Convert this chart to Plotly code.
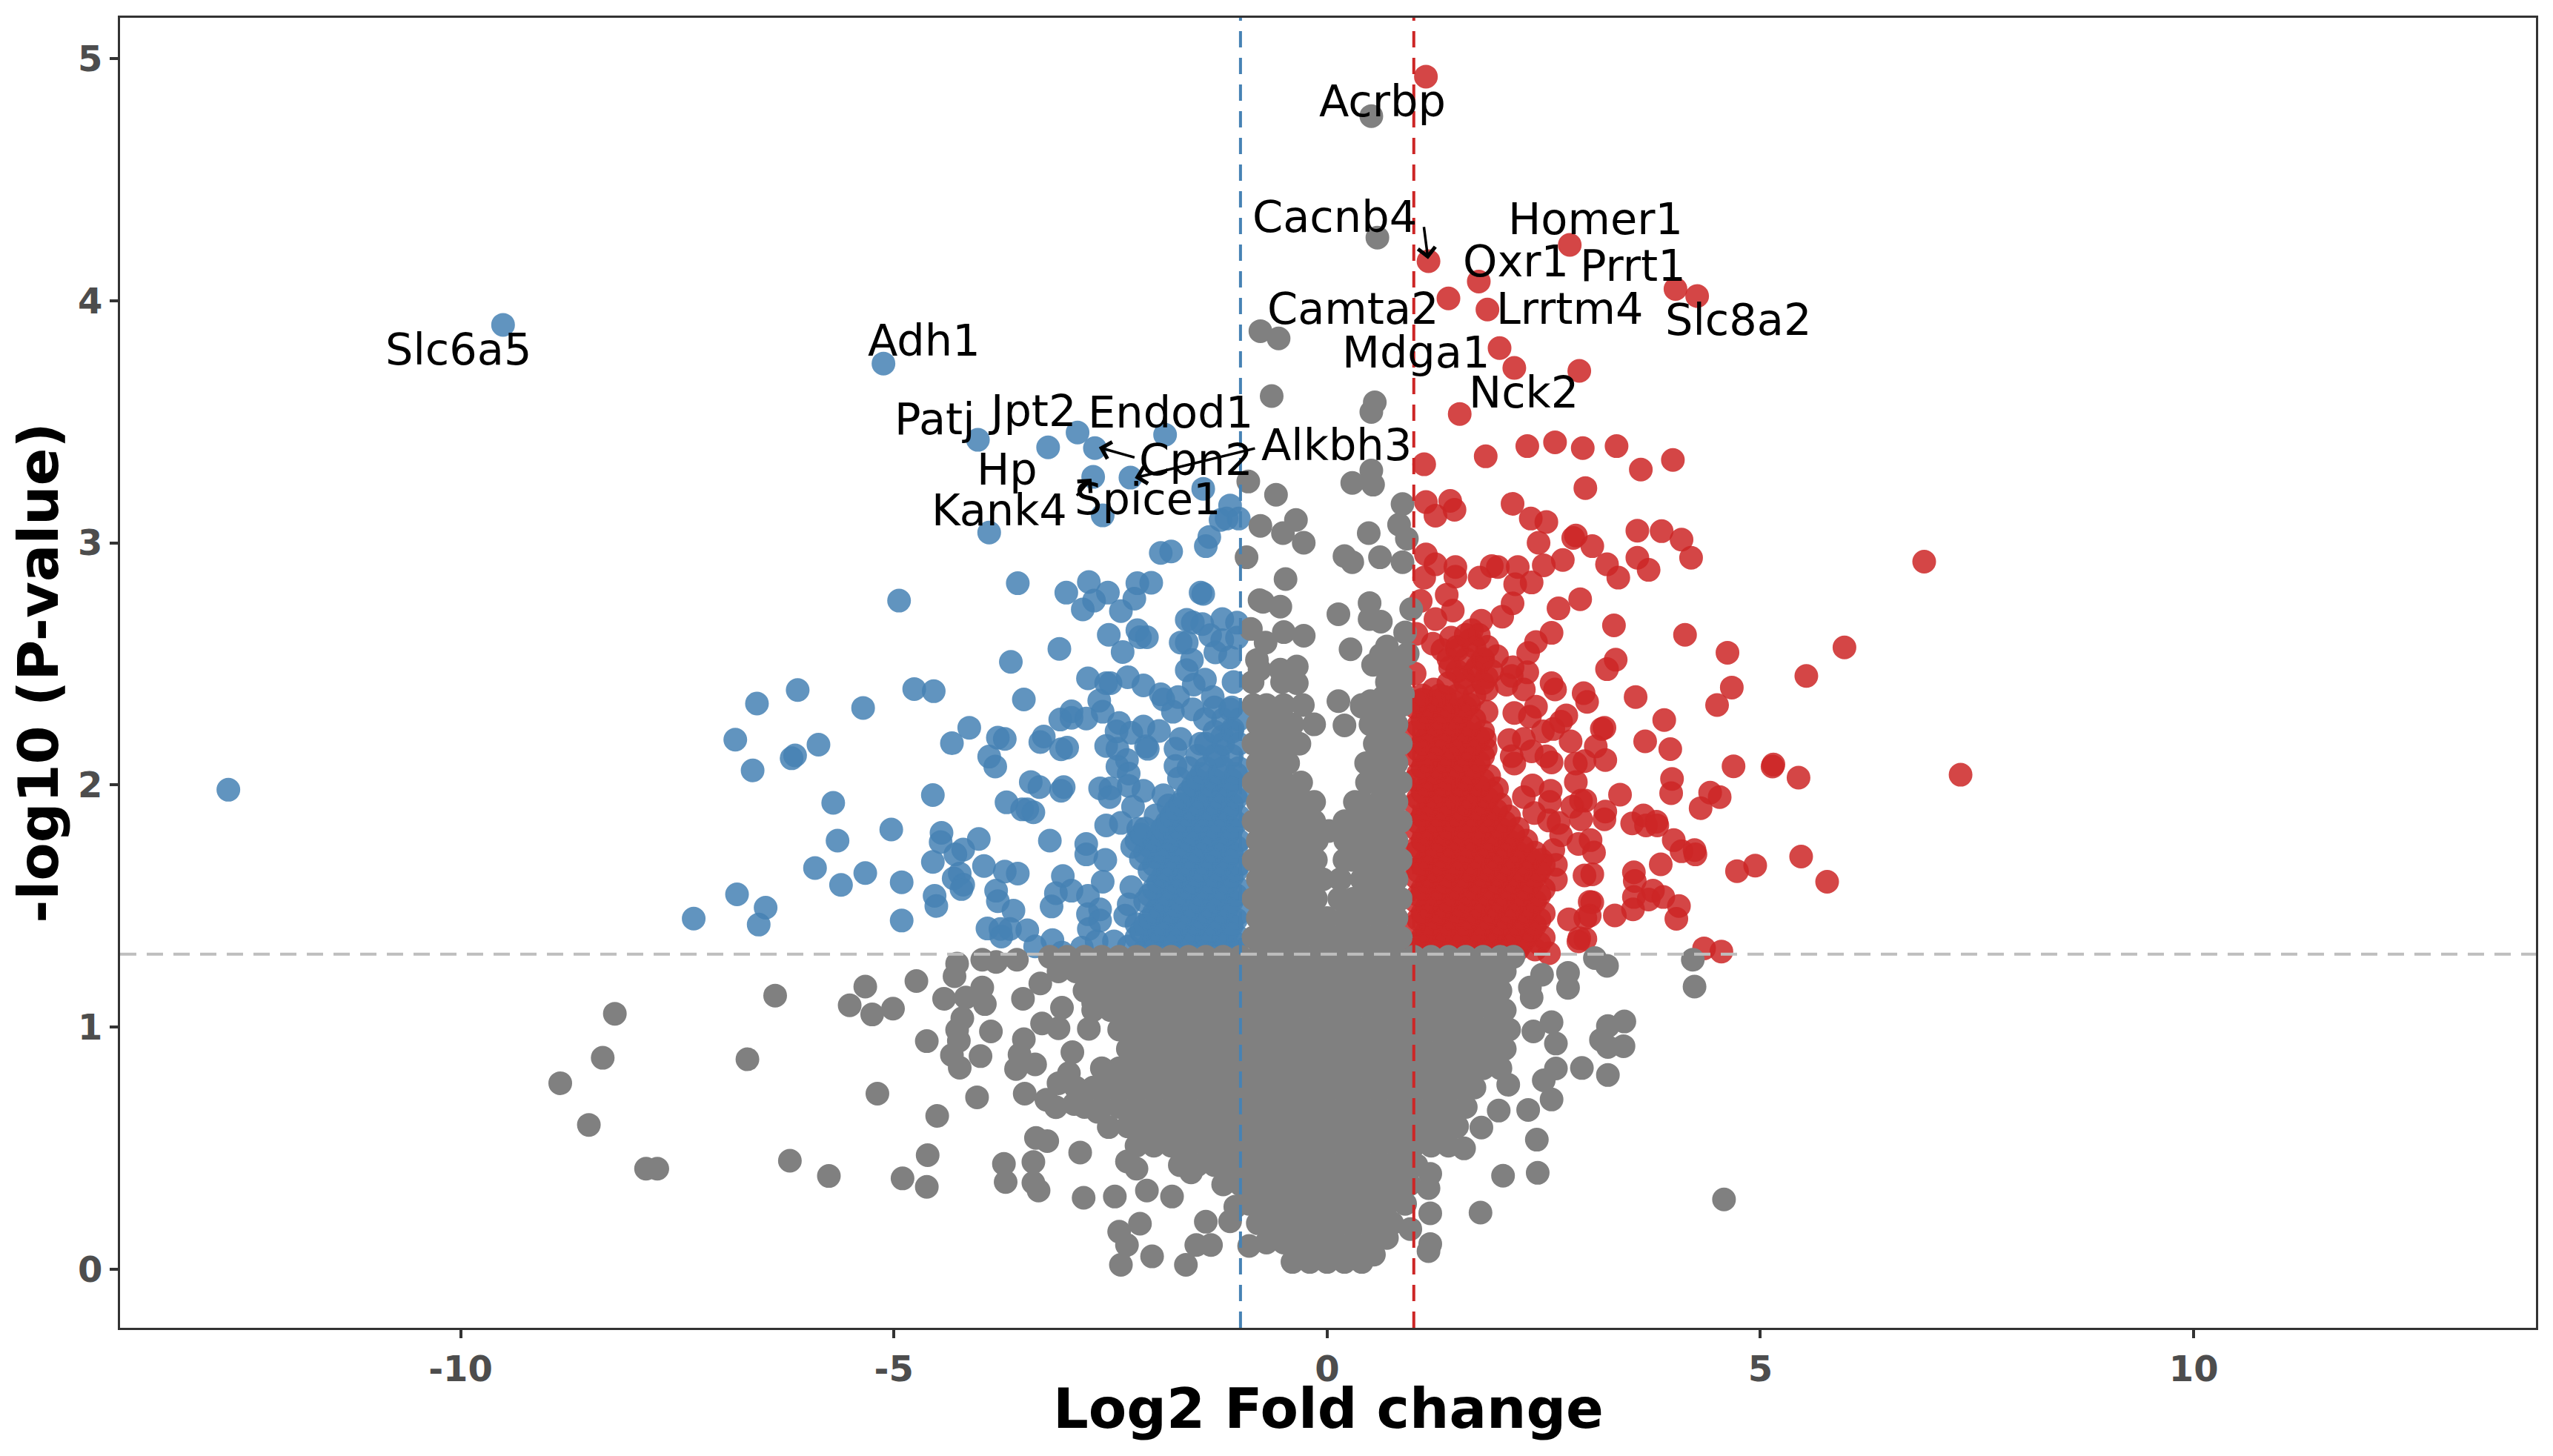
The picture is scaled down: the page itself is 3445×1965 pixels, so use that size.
"""Volcano plot: log2 fold change against -log10 p-value."""

import plotly.graph_objects as go

# separate points read one by one, (log2 fold change, -log10 p)
blue_points = [
    (-12.68, 1.98), (-9.51, 3.90), (-5.12, 3.74), (-4.03, 3.425), (-3.22, 3.394), (-2.88, 3.455),
    (-2.68, 3.391), (-1.87, 3.446), (-2.70, 3.272), (-2.27, 3.269), (-1.43, 3.223), (-2.59, 3.113),
    (-3.90, 3.042), (-1.12, 3.154), (-1.23, 3.094), (-1.16, 3.10), (-1.02, 3.10), (-1.36, 3.024),
    (-1.40, 2.986), (-1.92, 2.958), (-1.80, 2.964), (-4.94, 2.761), (-3.57, 2.833), (-3.01, 2.794),
    (-2.75, 2.838), (-2.53, 2.794), (-2.69, 2.761), (-2.82, 2.725), (-2.38, 2.718), (-2.225, 2.769),
    (-2.19, 2.833), (-2.03, 2.835), (-1.46, 2.794), (-1.43, 2.789), (-2.52, 2.62), (-2.19, 2.639),
    (-2.16, 2.61), (-2.08, 2.61), (-2.36, 2.549), (-3.09, 2.562), (-3.65, 2.508), (-4.765, 2.396),
    (-4.54, 2.387), (-5.355, 2.318), (-3.50, 2.353), (-2.76, 2.44), (-2.55, 2.42), (-2.50, 2.42),
    (-2.30, 2.445), (-2.12, 2.411), (-2.63, 2.348), (-2.59, 2.302), (-1.92, 2.374), (-1.89, 2.353),
    (-1.62, 2.682), (-1.55, 2.671), (-1.44, 2.664), (-1.21, 2.685), (-1.04, 2.67), (-1.69, 2.588),
    (-1.62, 2.588), (-1.56, 2.516), (-1.62, 2.474), (-1.41, 2.435), (-1.54, 2.414), (-1.08, 2.425),
    (-1.35, 2.618), (-1.21, 2.598), (-1.29, 2.547), (-1.12, 2.527), (-1.04, 2.608), (-1.72, 2.363),
    (-1.78, 2.302), (-1.55, 2.312), (-1.32, 2.363), (-1.12, 2.312), (-1.41, 2.272), (-1.09, 2.231),
    (-1.21, 2.20), (-2.95, 2.304), (-3.08, 2.27), (-2.95, 2.277), (-2.78, 2.274), (-2.40, 2.256),
    (-2.43, 2.221), (-2.26, 2.215), (-2.12, 2.241), (-1.94, 2.223), (-2.55, 2.161), (-2.42, 2.149),
    (-2.09, 2.159), (-2.07, 2.149), (-1.69, 2.19), (-1.75, 2.149), (-1.46, 2.17), (-1.26, 2.119),
    (-4.13, 2.236), (-4.33, 2.172), (-3.80, 2.195), (-3.72, 2.19), (-3.27, 2.20), (-3.31, 2.177),
    (-3.00, 2.154), (-3.07, 2.147), (-3.90, 2.117), (-3.83, 2.076), (-3.42, 2.012), (-3.32, 1.991),
    (-3.04, 1.991), (-3.07, 1.976), (-4.55, 1.958), (-3.70, 1.928), (-3.52, 1.899), (-3.46, 1.899),
    (-3.39, 1.887), (-2.31, 2.103), (-2.42, 2.076), (-2.29, 2.047), (-1.75, 2.078), (-1.71, 2.027),
    (-2.62, 1.986), (-2.50, 1.986), (-2.51, 1.95), (-2.29, 1.996), (-2.12, 1.976), (-1.89, 1.957),
    (-2.24, 1.91), (-1.98, 1.874), (-1.83, 1.915), (-2.55, 1.833), (-2.38, 1.843), (-2.18, 1.818),
    (-5.03, 1.816), (-4.45, 1.802), (-4.46, 1.764), (-4.02, 1.777), (-4.20, 1.733), (-4.29, 1.713),
    (-3.20, 1.77), (-2.78, 1.756), (-2.78, 1.713), (-4.55, 1.682), (-2.56, 1.69), (-5.33, 1.636),
    (-4.91, 1.598), (-3.96, 1.665), (-3.72, 1.642), (-3.57, 1.634), (-4.24, 1.634), (-4.31, 1.614),
    (-4.20, 1.588), (-4.22, 1.57), (-3.05, 1.624), (-2.59, 1.60), (-3.13, 1.553), (-2.95, 1.563),
    (-3.82, 1.563), (-3.80, 1.52), (-4.53, 1.542), (-4.51, 1.50), (-3.62, 1.481), (-3.18, 1.498),
    (-2.76, 1.542), (-2.62, 1.486), (-2.76, 1.466), (-2.62, 1.44), (-2.26, 1.578), (-2.29, 1.507),
    (-2.33, 1.46), (-2.20, 1.425), (-4.91, 1.44), (-3.92, 1.407), (-3.77, 1.405), (-3.76, 1.374),
    (-3.66, 1.405), (-3.46, 1.40), (-3.37, 1.333), (-3.17, 1.359), (-3.06, 1.308), (-2.75, 1.405),
    (-2.83, 1.328), (-2.66, 1.354), (-2.46, 1.354), (-2.29, 1.333), (-6.11, 2.392), (-6.58, 2.336),
    (-6.83, 2.187), (-5.87, 2.166), (-6.14, 2.122), (-6.18, 2.11), (-6.63, 2.06), (-5.70, 1.926),
    (-5.65, 1.77), (-5.91, 1.657), (-5.61, 1.587), (-6.81, 1.548), (-6.48, 1.493), (-6.56, 1.423),
    (-7.31, 1.448),
]

red_points = [
    (1.14, 4.925), (1.17, 4.163), (2.80, 4.23), (1.75, 4.079), (1.40, 4.009), (1.85, 3.963),
    (4.02, 4.048), (4.27, 4.019), (1.99, 3.804), (2.16, 3.722), (2.91, 3.71), (1.53, 3.532),
    (1.83, 3.357), (1.12, 3.324), (2.31, 3.399), (2.63, 3.415), (2.95, 3.391), (3.34, 3.399),
    (3.99, 3.342), (3.62, 3.302), (2.98, 3.226), (6.89, 2.922), (1.14, 3.168), (1.42, 3.173),
    (1.47, 3.136), (1.25, 3.112), (2.14, 3.161), (2.35, 3.10), (2.53, 3.086), (2.44, 3.00),
    (2.84, 3.02), (2.87, 3.03), (3.06, 2.986), (3.58, 3.05), (3.86, 3.048), (4.09, 3.013),
    (4.20, 2.938), (3.58, 2.938), (3.71, 2.888), (3.23, 2.911), (3.36, 2.856), (2.72, 2.929),
    (2.50, 2.907), (1.14, 2.952), (1.25, 2.911), (1.48, 2.90), (1.48, 2.86), (1.12, 2.856),
    (1.76, 2.856), (1.90, 2.904), (1.97, 2.90), (2.20, 2.90), (2.36, 2.836), (2.17, 2.829),
    (2.92, 2.767), (2.67, 2.729), (2.14, 2.75), (2.02, 2.695), (1.78, 2.678), (1.38, 2.785),
    (1.08, 2.76), (1.45, 2.72), (1.25, 2.685), (3.31, 2.659), (4.13, 2.62), (4.62, 2.546),
    (5.97, 2.568), (5.53, 2.45), (4.67, 2.402), (4.50, 2.33), (2.59, 2.628), (2.41, 2.59),
    (2.32, 2.545), (3.33, 2.517), (3.23, 2.478), (7.31, 2.042), (5.15, 2.084), (5.14, 2.076),
    (4.69, 2.077), (5.44, 2.03), (3.89, 2.268), (3.67, 2.18), (3.96, 2.148), (5.47, 1.704),
    (5.77, 1.60), (4.94, 1.667), (4.73, 1.644), (4.55, 1.312), (4.35, 1.325), (3.56, 2.363),
    (3.98, 2.025), (3.97, 1.966), (3.38, 1.96), (4.42, 1.968), (4.53, 1.95), (4.31, 1.904),
    (3.21, 1.89), (3.20, 1.858), (3.52, 1.841), (3.65, 1.874), (3.68, 1.833), (3.80, 1.848),
    (3.81, 1.833), (4.00, 1.772), (4.09, 1.726), (4.24, 1.731), (4.25, 1.713), (3.85, 1.672),
    (3.54, 1.639), (3.55, 1.603), (3.76, 1.563), (3.54, 1.537), (3.71, 1.527), (3.88, 1.537),
    (3.53, 1.486), (4.06, 1.50), (4.03, 1.447), (3.32, 1.461), (3.03, 1.517), (3.06, 1.515),
    (3.03, 1.46), (2.98, 1.45), (2.56, 1.305), (2.91, 1.367), (2.98, 1.364), (2.90, 1.354),
    (2.79, 1.445), (2.97, 1.626), (3.06, 1.631), (2.90, 1.756), (3.04, 1.772), (3.08, 1.721),
    (3.21, 2.103), (3.10, 2.159), (3.17, 2.231), (3.20, 2.236), (2.96, 2.379), (3.00, 2.343),
    (2.59, 2.42), (2.63, 2.394), (2.76, 2.287), (2.61, 2.231), (2.70, 2.261), (2.81, 2.18),
    (2.97, 2.098), (2.87, 2.088), (2.59, 2.093), (2.87, 2.012), (2.93, 1.935), (2.98, 1.935),
    (2.83, 1.91), (2.93, 1.858), (2.37, 1.998), (2.58, 1.976), (2.57, 1.93), (2.27, 1.95),
    (2.39, 1.884), (2.56, 1.853), (2.67, 1.843), (2.70, 1.792), (2.61, 1.731), (2.64, 1.67),
    (2.64, 1.609), (2.47, 1.69), (2.16, 2.088), (2.13, 2.119), (2.10, 2.185), (2.27, 2.19),
    (2.41, 2.323), (2.16, 2.297), (2.34, 2.282), (2.49, 2.221), (2.36, 2.139), (2.53, 2.118),
    (2.27, 2.394), (2.31, 2.465), (2.13, 2.45), (2.14, 2.486), (2.07, 2.414), (1.96, 2.532),
    (1.83, 2.149), (1.82, 2.19), (1.87, 2.037), (1.96, 1.986), (1.42, 2.486), (1.57, 2.445),
    (1.67, 2.639), (1.65, 2.598), (1.43, 2.608), (1.22, 2.583), (1.03, 2.624), (1.33, 2.557),
    (1.50, 2.557), (1.79, 2.516), (1.84, 2.445), (1.84, 2.394), (1.73, 2.486), (1.23, 2.394),
    (1.10, 2.353), (1.36, 2.363), (1.64, 2.333), (1.53, 2.312), (1.84, 2.302), (1.01, 2.46),
]

gray_points = [
    (0.51, 4.762), (0.58, 4.26), (-0.77, 3.874), (-0.56, 3.844), (-0.64, 3.606), (0.55, 3.58),
    (0.51, 3.54), (-0.91, 3.253), (-0.59, 3.198), (0.51, 3.298), (0.29, 3.247), (0.53, 3.24),
    (0.87, 3.16), (0.83, 3.075), (0.92, 3.017), (0.48, 3.04), (-0.77, 3.07), (-0.36, 3.094),
    (-0.51, 3.04), (-0.27, 3.00), (-0.93, 2.94), (0.20, 2.945), (0.29, 2.92), (0.61, 2.94),
    (0.87, 2.92), (-0.48, 2.85), (-0.78, 2.763), (-0.74, 2.756), (-0.54, 2.736), (0.13, 2.705),
    (0.49, 2.751), (0.49, 2.685), (0.62, 2.674), (0.97, 2.726), (0.90, 2.63), (-0.88, 2.644),
    (-0.71, 2.588), (-0.50, 2.631), (-0.27, 2.616), (0.27, 2.56), (0.69, 2.572), (0.62, 2.537),
    (0.53, 2.496), (0.93, 2.542), (0.82, 2.506), (-0.35, 2.489), (-0.54, 2.476), (-0.35, 2.42),
    (-0.52, 2.425), (-0.81, 2.516), (-0.78, 2.476), (-0.86, 2.425), (0.69, 2.425), (0.70, 2.465),
    (0.87, 2.445), (0.13, 2.346), (0.20, 2.246), (0.50, 2.346), (0.40, 2.323), (0.65, 2.363),
    (0.875, 2.374), (-8.22, 1.055), (-6.37, 1.13), (-8.36, 0.873), (-6.69, 0.867), (-8.85, 0.768),
    (-8.52, 0.596), (-7.86, 0.415), (-7.73, 0.415), (-6.20, 0.448), (-5.75, 0.385), (-4.90, 0.375),
    (-4.62, 0.34), (-4.61, 0.471), (-4.50, 0.633), (-5.19, 0.725), (-4.04, 0.71), (-5.33, 1.167),
    (-5.51, 1.09), (-5.25, 1.052), (-5.01, 1.076), (-4.74, 1.19), (-4.27, 1.262), (-4.30, 1.21),
    (-4.42, 1.117), (-4.17, 1.122), (-3.98, 1.163), (-3.95, 1.095), (-4.21, 1.036), (-4.27, 0.988),
    (-4.25, 0.943), (-4.62, 0.942), (-4.33, 0.884), (-4.24, 0.832), (-4.00, 0.88), (-3.88, 0.982),
    (-3.51, 1.117), (-3.98, 1.278), (-3.82, 1.269), (-3.58, 1.278), (-3.31, 1.18), (-3.29, 1.015),
    (-3.10, 0.995), (-3.50, 0.95), (-3.55, 0.886), (-3.37, 0.846), (-3.59, 0.827), (-3.49, 0.725),
    (-3.24, 0.70), (-3.13, 0.669), (-2.92, 0.682), (-2.65, 0.65), (-2.52, 0.587), (-3.36, 0.542),
    (-3.23, 0.529), (-2.85, 0.482), (-3.73, 0.435), (-3.39, 0.443), (-3.71, 0.36), (-3.39, 0.357),
    (-3.33, 0.325), (-2.81, 0.295), (-2.45, 0.30), (-2.31, 0.445), (-2.20, 0.415), (-2.08, 0.325),
    (-1.79, 0.30), (-2.16, 0.188), (-2.40, 0.155), (-2.31, 0.10), (-2.38, 0.018), (-2.02, 0.053),
    (-1.63, 0.018), (-1.51, 0.10), (-1.34, 0.10), (-1.40, 0.196), (-1.12, 0.198), (-1.06, 0.258),
    (-1.57, 0.40), (2.48, 1.216), (2.78, 1.224), (2.78, 1.162), (3.09, 1.285), (3.23, 1.253),
    (4.22, 1.278), (4.24, 1.167), (2.34, 1.163), (2.36, 1.122), (2.59, 1.02), (2.38, 0.982),
    (2.64, 0.932), (3.24, 1.004), (3.43, 1.023), (3.16, 0.947), (3.24, 0.918), (3.42, 0.921),
    (2.64, 0.829), (2.94, 0.831), (3.24, 0.802), (2.50, 0.78), (2.59, 0.701), (2.09, 0.762),
    (1.98, 0.655), (2.32, 0.658), (1.78, 0.585), (2.42, 0.535), (1.58, 0.499), (2.03, 0.386),
    (2.43, 0.398), (1.19, 0.394), (1.17, 0.335), (1.19, 0.231), (1.77, 0.234), (4.58, 0.288),
    (1.19, 0.104), (1.17, 0.075), (0.96, 0.166), (0.69, 0.129), (0.54, 0.06), (-0.90, 0.096),
    (-2.94, 0.896), (-2.98, 0.81), (-3.10, 0.768), (-2.75, 0.993), (-3.06, 1.08), (-2.70, 1.10),
    (-2.74, 1.208), (-3.02, 1.262), (0.02, 1.81),
]

# dense clouds, read as rows: (-log10 p, fold changes across the row)
blue_rows = [
    (1.32, [-2.1, -1.9, -1.7, -1.5, -1.3, -1.1]),
    (1.345, [-2.05, -1.85, -1.65, -1.45, -1.25, -1.05]),
    (1.37, [-2.2, -2.0, -1.8, -1.6, -1.4, -1.2, -1.02]),
    (1.395, [-2.15, -1.95, -1.75, -1.55, -1.35, -1.15]),
    (1.42, [-2.1, -1.9, -1.7, -1.5, -1.3, -1.1]),
    (1.445, [-2.05, -1.85, -1.65, -1.45, -1.25, -1.05]),
    (1.47, [-2.0, -1.8, -1.6, -1.4, -1.2, -1.02]),
    (1.495, [-1.95, -1.75, -1.55, -1.35, -1.15]),
    (1.52, [-2.1, -1.9, -1.7, -1.5, -1.3, -1.1]),
    (1.545, [-2.05, -1.85, -1.65, -1.45, -1.25, -1.05]),
    (1.57, [-2.0, -1.8, -1.6, -1.4, -1.2, -1.02]),
    (1.595, [-1.95, -1.75, -1.55, -1.35, -1.15]),
    (1.62, [-1.9, -1.7, -1.5, -1.3, -1.1]),
    (1.645, [-2.05, -1.85, -1.65, -1.45, -1.25, -1.05]),
    (1.67, [-2.0, -1.8, -1.6, -1.4, -1.2, -1.02]),
    (1.695, [-2.15, -1.95, -1.75, -1.55, -1.35, -1.15]),
    (1.72, [-2.1, -1.9, -1.7, -1.5, -1.3, -1.1]),
    (1.745, [-2.25, -2.05, -1.85, -1.65, -1.45, -1.25, -1.05]),
    (1.77, [-2.2, -2.0, -1.8, -1.6, -1.4, -1.2, -1.02]),
    (1.795, [-2.15, -1.95, -1.75, -1.55, -1.35, -1.15]),
    (1.82, [-2.1, -1.9, -1.7, -1.5, -1.3, -1.1]),
    (1.845, [-1.85, -1.65, -1.45, -1.25, -1.05]),
    (1.87, [-1.8, -1.6, -1.4, -1.2, -1.02]),
    (1.895, [-1.75, -1.55, -1.35, -1.15]),
    (1.92, [-1.7, -1.5, -1.3, -1.1]),
    (1.945, [-1.65, -1.45, -1.25, -1.05]),
    (1.97, [-1.6, -1.4, -1.2, -1.02]),
    (1.995, [-1.55, -1.35, -1.15]),
    (2.02, [-1.5, -1.3, -1.1]),
    (2.045, [-1.45, -1.25, -1.05]),
    (2.07, [-1.6, -1.4, -1.2, -1.02]),
    (2.12, [-1.5, -1.3, -1.1]),
    (2.17, [-1.4, -1.2, -1.02]),
    (2.22, [-1.3, -1.1]),
    (2.27, [-1.2, -1.02]),
    (2.32, [-1.3, -1.1]),
]

red_rows = [
    (1.32, [1.02, 1.2, 1.4, 1.6, 1.8, 2.0, 2.2, 2.4]),
    (1.345, [1.05, 1.25, 1.45, 1.65, 1.85, 2.05, 2.25, 2.45]),
    (1.37, [1.1, 1.3, 1.5, 1.7, 1.9, 2.1, 2.3, 2.5]),
    (1.395, [1.15, 1.35, 1.55, 1.75, 1.95, 2.15, 2.35]),
    (1.42, [1.02, 1.2, 1.4, 1.6, 1.8, 2.0, 2.2, 2.4]),
    (1.445, [1.05, 1.25, 1.45, 1.65, 1.85, 2.05, 2.25, 2.45]),
    (1.47, [1.1, 1.3, 1.5, 1.7, 1.9, 2.1, 2.3, 2.5]),
    (1.495, [1.15, 1.35, 1.55, 1.75, 1.95, 2.15, 2.35]),
    (1.52, [1.02, 1.2, 1.4, 1.6, 1.8, 2.0, 2.2, 2.4]),
    (1.545, [1.05, 1.25, 1.45, 1.65, 1.85, 2.05, 2.25, 2.45]),
    (1.57, [1.1, 1.3, 1.5, 1.7, 1.9, 2.1, 2.3, 2.5]),
    (1.595, [1.15, 1.35, 1.55, 1.75, 1.95, 2.15, 2.35]),
    (1.62, [1.02, 1.2, 1.4, 1.6, 1.8, 2.0, 2.2, 2.4]),
    (1.645, [1.05, 1.25, 1.45, 1.65, 1.85, 2.05, 2.25, 2.45]),
    (1.67, [1.1, 1.3, 1.5, 1.7, 1.9, 2.1, 2.3, 2.5]),
    (1.695, [1.15, 1.35, 1.55, 1.75, 1.95, 2.15, 2.35]),
    (1.72, [1.02, 1.2, 1.4, 1.6, 1.8, 2.0, 2.2, 2.4]),
    (1.745, [1.05, 1.25, 1.45, 1.65, 1.85, 2.05, 2.25]),
    (1.77, [1.1, 1.3, 1.5, 1.7, 1.9, 2.1, 2.3]),
    (1.795, [1.15, 1.35, 1.55, 1.75, 1.95, 2.15]),
    (1.82, [1.02, 1.2, 1.4, 1.6, 1.8, 2.0, 2.2]),
    (1.845, [1.05, 1.25, 1.45, 1.65, 1.85, 2.05]),
    (1.87, [1.1, 1.3, 1.5, 1.7, 1.9, 2.1]),
    (1.895, [1.15, 1.35, 1.55, 1.75, 1.95]),
    (1.92, [1.02, 1.2, 1.4, 1.6, 1.8, 2.0]),
    (1.945, [1.05, 1.25, 1.45, 1.65, 1.85]),
    (1.97, [1.1, 1.3, 1.5, 1.7, 1.9]),
    (1.995, [1.15, 1.35, 1.55, 1.75]),
    (2.02, [1.02, 1.2, 1.4, 1.6, 1.8]),
    (2.045, [1.05, 1.25, 1.45, 1.65]),
    (2.07, [1.1, 1.3, 1.5, 1.7]),
    (2.095, [1.15, 1.35, 1.55, 1.75]),
    (2.12, [1.02, 1.2, 1.4, 1.6, 1.8]),
    (2.145, [1.05, 1.25, 1.45, 1.65]),
    (2.17, [1.1, 1.3, 1.5, 1.7]),
    (2.195, [1.15, 1.35, 1.55, 1.75]),
    (2.22, [1.02, 1.2, 1.4, 1.6, 1.8]),
    (2.245, [1.05, 1.25, 1.45, 1.65]),
    (2.27, [1.1, 1.3, 1.5, 1.7]),
    (2.295, [1.15, 1.35, 1.55]),
    (2.32, [1.02, 1.2, 1.4, 1.6]),
    (2.345, [1.05, 1.25, 1.45]),
    (2.37, [1.1, 1.3, 1.5, 1.7]),
    (2.42, [1.4, 1.6, 1.8]),
    (2.47, [1.5, 1.7, 1.9]),
    (2.52, [1.4, 1.6, 1.8]),
    (2.57, [1.5, 1.7, 1.85]),
    (2.62, [1.6, 1.75]),
]

gray_rows = [
    (0.03, [-0.4, -0.2, 0.0, 0.2, 0.4]),
    (0.11, [-0.7, -0.5, -0.3, -0.1, 0.1, 0.3, 0.5]),
    (0.19, [-0.8, -0.6, -0.4, -0.2, 0.0, 0.2, 0.4, 0.6, 0.75]),
    (0.27, [-0.9, -0.7, -0.5, -0.3, -0.1, 0.1, 0.3, 0.5, 0.7, 0.9]),
    (0.35, [-1.2, -1.0, -0.8, -0.6, -0.4, -0.2, 0.0, 0.2, 0.4, 0.6, 0.8, 0.95]),
    (0.43, [-1.7, -1.5, -1.3, -1.1, -0.9, -0.7, -0.5, -0.3, -0.1, 0.1, 0.3, 0.5, 0.7, 0.9, 1.03]),
    (0.51, [-2.2, -2.0, -1.8, -1.6, -1.4, -1.2, -1.0, -0.8, -0.6, -0.4, -0.2, 0.0, 0.2, 0.4, 0.6, 0.8, 1.0, 1.2, 1.4]),
    (0.59, [-2.3, -2.1, -1.9, -1.7, -1.5, -1.3, -1.1, -0.9, -0.7, -0.5, -0.3, -0.1, 0.1, 0.3, 0.5, 0.7, 0.9, 1.1, 1.3, 1.5]),
    (0.67, [-2.8, -2.6, -2.4, -2.2, -2.0, -1.8, -1.6, -1.4, -1.2, -1.0, -0.8, -0.6, -0.4, -0.2, 0.0, 0.2, 0.4, 0.6, 0.8, 1.0, 1.2, 1.4, 1.6]),
    (0.75, [-2.9, -2.7, -2.5, -2.3, -2.1, -1.9, -1.7, -1.5, -1.3, -1.1, -0.9, -0.7, -0.5, -0.3, -0.1, 0.1, 0.3, 0.5, 0.7, 0.9, 1.1, 1.3, 1.5, 1.7]),
    (0.83, [-2.6, -2.4, -2.2, -2.0, -1.8, -1.6, -1.4, -1.2, -1.0, -0.8, -0.6, -0.4, -0.2, 0.0, 0.2, 0.4, 0.6, 0.8, 1.0, 1.2, 1.4, 1.6, 1.8, 2.0]),
    (0.91, [-2.3, -2.1, -1.9, -1.7, -1.5, -1.3, -1.1, -0.9, -0.7, -0.5, -0.3, -0.1, 0.1, 0.3, 0.5, 0.7, 0.9, 1.1, 1.3, 1.5, 1.7, 1.9, 2.05]),
    (0.99, [-2.4, -2.2, -2.0, -1.8, -1.6, -1.4, -1.2, -1.0, -0.8, -0.6, -0.4, -0.2, 0.0, 0.2, 0.4, 0.6, 0.8, 1.0, 1.2, 1.4, 1.6, 1.8, 2.0, 2.1]),
    (1.07, [-2.7, -2.5, -2.3, -2.1, -1.9, -1.7, -1.5, -1.3, -1.1, -0.9, -0.7, -0.5, -0.3, -0.1, 0.1, 0.3, 0.5, 0.7, 0.9, 1.1, 1.3, 1.5, 1.7, 1.9, 2.05]),
    (1.15, [-2.8, -2.6, -2.4, -2.2, -2.0, -1.8, -1.6, -1.4, -1.2, -1.0, -0.8, -0.6, -0.4, -0.2, 0.0, 0.2, 0.4, 0.6, 0.8, 1.0, 1.2, 1.4, 1.6, 1.8, 2.0]),
    (1.23, [-3.1, -2.9, -2.7, -2.5, -2.3, -2.1, -1.9, -1.7, -1.5, -1.3, -1.1, -0.9, -0.7, -0.5, -0.3, -0.1, 0.1, 0.3, 0.5, 0.7, 0.9, 1.1, 1.3, 1.5, 1.7, 1.9, 2.05]),
    (1.29, [-3.2, -3.0, -2.8, -2.6, -2.4, -2.2, -2.0, -1.8, -1.6, -1.4, -1.2, -1.0, -0.8, -0.6, -0.4, -0.2, 0.0, 0.2, 0.4, 0.6, 0.8, 1.0, 1.2, 1.4, 1.6, 1.8, 2.0, 2.15]),
    (1.37, [-0.85, -0.7, -0.5, -0.3, -0.1, 0.1, 0.3, 0.5, 0.7, 0.85]),
    (1.45, [-0.8, -0.6, -0.4, -0.2, 0.0, 0.2, 0.4, 0.6, 0.8]),
    (1.53, [-0.85, -0.7, -0.5, -0.3, -0.13, 0.14, 0.3, 0.5, 0.7, 0.85]),
    (1.61, [-0.8, -0.6, -0.4, -0.2, -0.05, 0.15, 0.4, 0.6, 0.8]),
    (1.69, [-0.85, -0.7, -0.5, -0.3, -0.13, 0.2, 0.3, 0.5, 0.7, 0.85]),
    (1.77, [-0.8, -0.6, -0.4, -0.25, -0.12, 0.21, 0.4, 0.6, 0.8]),
    (1.85, [-0.85, -0.7, -0.5, -0.3, -0.15, 0.2, 0.3, 0.5, 0.7, 0.85]),
    (1.93, [-0.8, -0.6, -0.4, -0.25, -0.15, 0.32, 0.4, 0.6, 0.8]),
    (2.01, [-0.85, -0.7, -0.5, -0.3, 0.46, 0.6, 0.7, 0.85]),
    (2.09, [-0.8, -0.6, -0.45, 0.45, 0.6, 0.8]),
    (2.17, [-0.85, -0.7, -0.5, -0.32, 0.55, 0.7, 0.85]),
    (2.25, [-0.8, -0.6, -0.4, -0.15, 0.5, 0.6, 0.8]),
    (2.33, [-0.85, -0.7, -0.5, -0.28, 0.4, 0.5, 0.7, 0.87]),
]

label_names = ['Acrbp', 'Cacnb4', 'Homer1', 'Oxr1', 'Prrt1', 'Camta2', 'Lrrtm4', 'Slc8a2', 'Mdga1', 'Slc6a5',
               'Adh1', 'Nck2', 'Patj', 'Jpt2', 'Endod1', 'Alkbh3', 'Cpn2', 'Hp', 'Spice1', 'Kank4']
label_x = [0.636, 0.09, 3.1, 2.18, 3.53, 0.3, 2.8, 4.75, 1.03, -10.02,
           -4.65, 2.27, -4.53, -3.4, -1.81, 0.11, -1.51, -3.69, -2.07, -3.78]
label_y = [4.823, 4.345, 4.338, 4.164, 4.143, 3.968, 3.968, 3.921, 3.787, 3.80,
           3.834, 3.62, 3.51, 3.545, 3.538, 3.403, 3.343, 3.302, 3.181, 3.134]

# repel segments: tail x, tail y, head x, head y
arrows = [(1.115, 4.309, 1.165, 4.171), (-0.82, 3.391, -2.22, 3.268),
          (-2.21, 3.351, -2.635, 3.394), (-2.9, 3.19, -2.72, 3.265)]

x_ticks = [-10, -5, 0, 5, 10]
x_tick_labels = ['-10', '-5', '0', '5', '10']
y_ticks = [0, 1, 2, 3, 4, 5]


def unpack(points, rows):
    xs = [p[0] for p in points]
    ys = [p[1] for p in points]
    for y, row in rows:
        xs += row
        ys += [y] * len(row)
    return xs, ys


fig = go.Figure()
for name, points, rows, color, alpha in [
        ('Down', blue_points, blue_rows, '#4682B4', 0.85),
        ('Up', red_points, red_rows, '#CD2626', 0.85),
        ('NS', gray_points, gray_rows, '#808080', 1)]:
    xs, ys = unpack(points, rows)
    fig.add_trace(go.Scatter(x=xs, y=ys, mode='markers', name=name, showlegend=False,
                             marker=dict(size=30, color=color, opacity=alpha,
                                         line=dict(width=2, color=color))))

fig.add_vline(x=-1, line=dict(color='#4682B4', width=4, dash='22px,14px'))
fig.add_vline(x=1, line=dict(color='#CD2626', width=4, dash='22px,14px'))
fig.add_hline(y=1.301, line=dict(color='#BEBEBE', width=4, dash='22px,14px'))

for name, x, y in zip(label_names, label_x, label_y):
    fig.add_annotation(x=x, y=y, text=name, showarrow=False, xanchor='center', yanchor='middle',
                       font=dict(family='DejaVu Sans', size=59, color='black'))
for x0, y0, x1, y1 in arrows:
    fig.add_annotation(x=x1, y=y1, ax=x0, ay=y0, axref='x', ayref='y', text='', showarrow=True,
                       arrowhead=4, arrowwidth=3.5, arrowsize=1.3, arrowcolor='black')

# x title sits closer to the ticks than the axis title standoff allows
fig.add_annotation(xref='paper', yref='paper', x=0.5, y=0, yshift=-109, text='Log2 Fold change',
                   showarrow=False, xanchor='center', yanchor='middle',
                   font=dict(family='DejaVu Sans', size=75, color='black', weight='bold'))

axis_style = dict(showgrid=False, zeroline=False, showline=True, mirror=True, linecolor='#333333',
                  linewidth=3, ticks='outside', ticklen=11, tickwidth=4, tickcolor='#333333',
                  tickfont=dict(family='DejaVu Sans', size=48, color='#4D4D4D', weight='bold'))
fig.update_xaxes(range=[-13.93, 13.95], tickvals=x_ticks, ticktext=x_tick_labels, **axis_style)
fig.update_yaxes(range=[-0.242, 5.168], tickvals=y_ticks, **axis_style,
                 title=dict(text='-log10 (P-value)', standoff=9,
                            font=dict(family='DejaVu Sans', size=75, color='black', weight='bold')))
# the page body adds an 8px margin, the figure is sized and placed to allow for it
fig.update_layout(width=3429, height=1945, plot_bgcolor='white', paper_bgcolor='white',
                  margin=dict(l=154, r=15, t=16, b=161, autoexpand=False))

fig.write_html("out.html")
